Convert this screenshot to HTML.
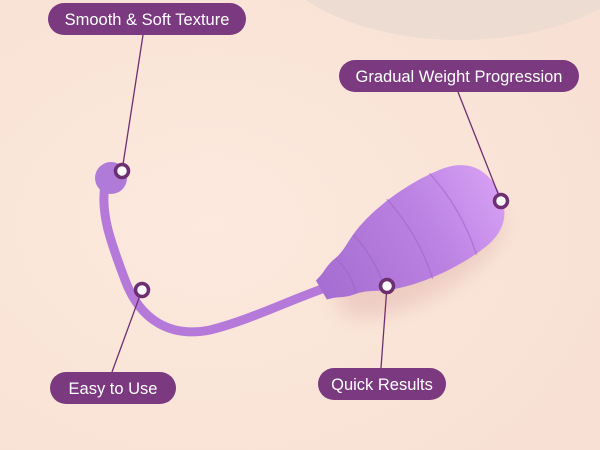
<!DOCTYPE html>
<html><head><style>
html,body{margin:0;padding:0;width:600px;height:450px;overflow:hidden;background:#fbe7db;}
text{font-family:"Liberation Sans",sans-serif;fill:#fff;}
</style></head><body>
<svg width="600" height="450" viewBox="0 0 600 450">
<defs>
<radialGradient id="bg" cx="0.35" cy="0.5" r="0.7"><stop offset="0" stop-color="#fde9de"/><stop offset="1" stop-color="#f8e1d4"/></radialGradient>
<linearGradient id="egg" x1="0" y1="0" x2="1" y2="0"><stop offset="0" stop-color="#a66dd2"/><stop offset="0.6" stop-color="#bb82e2"/><stop offset="1" stop-color="#d59ef3"/></linearGradient>
<filter id="sh" x="-30%" y="-30%" width="160%" height="160%"><feGaussianBlur stdDeviation="10"/></filter>
</defs>
<rect width="600" height="450" fill="url(#bg)"/>
<ellipse cx="460" cy="-70" rx="200" ry="110" fill="#ecdcd1"/>
<ellipse cx="420" cy="260" rx="95" ry="38" transform="rotate(-30 420 260)" fill="#e8c2b8" opacity="0.7" filter="url(#sh)"/>
<path d="M325 288 C290 300 250 320 210 330 C170 338 140 320 125 280 C112 245 100 215 105 185" fill="none" stroke="#b57ad9" stroke-width="9" stroke-linecap="round"/>
<circle cx="111" cy="178" r="16" fill="#b07ad8"/>
<g transform="translate(408,240) rotate(-30)">
<path d="M-100,-11 C-90,-13 -85,-18 -75,-20 C-62,-22 -58,-26 -45,-32 C-15,-46 35,-50 68,-44 C96,-38 103,-18 103,0 C103,18 96,38 68,44 C35,50 -15,46 -45,32 C-58,26 -62,22 -75,20 C-85,18 -90,13 -100,11 Z" fill="url(#egg)"/>
<g fill="none" stroke="#9c62c6" stroke-width="1.5" opacity="0.5">
<path d="M-72,-20 Q-65,0 -72,20"/>
<path d="M-45,-32 Q-37,0 -45,32"/>
<path d="M2,-46 Q12,0 2,46"/>
<path d="M52,-47 Q62,0 52,47"/>
</g>
</g>
<g stroke="#6e2f72" stroke-width="1.3">
<line x1="143" y1="35" x2="122" y2="171"/>
<line x1="458" y1="92" x2="501" y2="201"/>
<line x1="112" y1="372" x2="142" y2="290"/>
<line x1="381" y1="368" x2="387" y2="286"/>
</g>
<g fill="#fff" stroke="#6e2f72" stroke-width="3.5">
<circle cx="122" cy="171" r="6.5"/>
<circle cx="501" cy="201" r="6.5"/>
<circle cx="142" cy="290" r="6.5"/>
<circle cx="387" cy="286" r="6.5"/>
</g>
<g fill="#7b3a80">
<rect x="48" y="3" width="198" height="32" rx="16"/>
<rect x="339" y="60" width="240" height="32" rx="16"/>
<rect x="50" y="372" width="126" height="32" rx="16"/>
<rect x="318" y="368" width="128" height="32" rx="16"/>
</g>
<g font-size="16.5" text-anchor="middle">
<text x="147" y="25">Smooth &amp; Soft Texture</text>
<text x="459" y="82">Gradual Weight Progression</text>
<text x="113" y="394">Easy to Use</text>
<text x="382" y="390">Quick Results</text>
</g>
</svg>
</body></html>
